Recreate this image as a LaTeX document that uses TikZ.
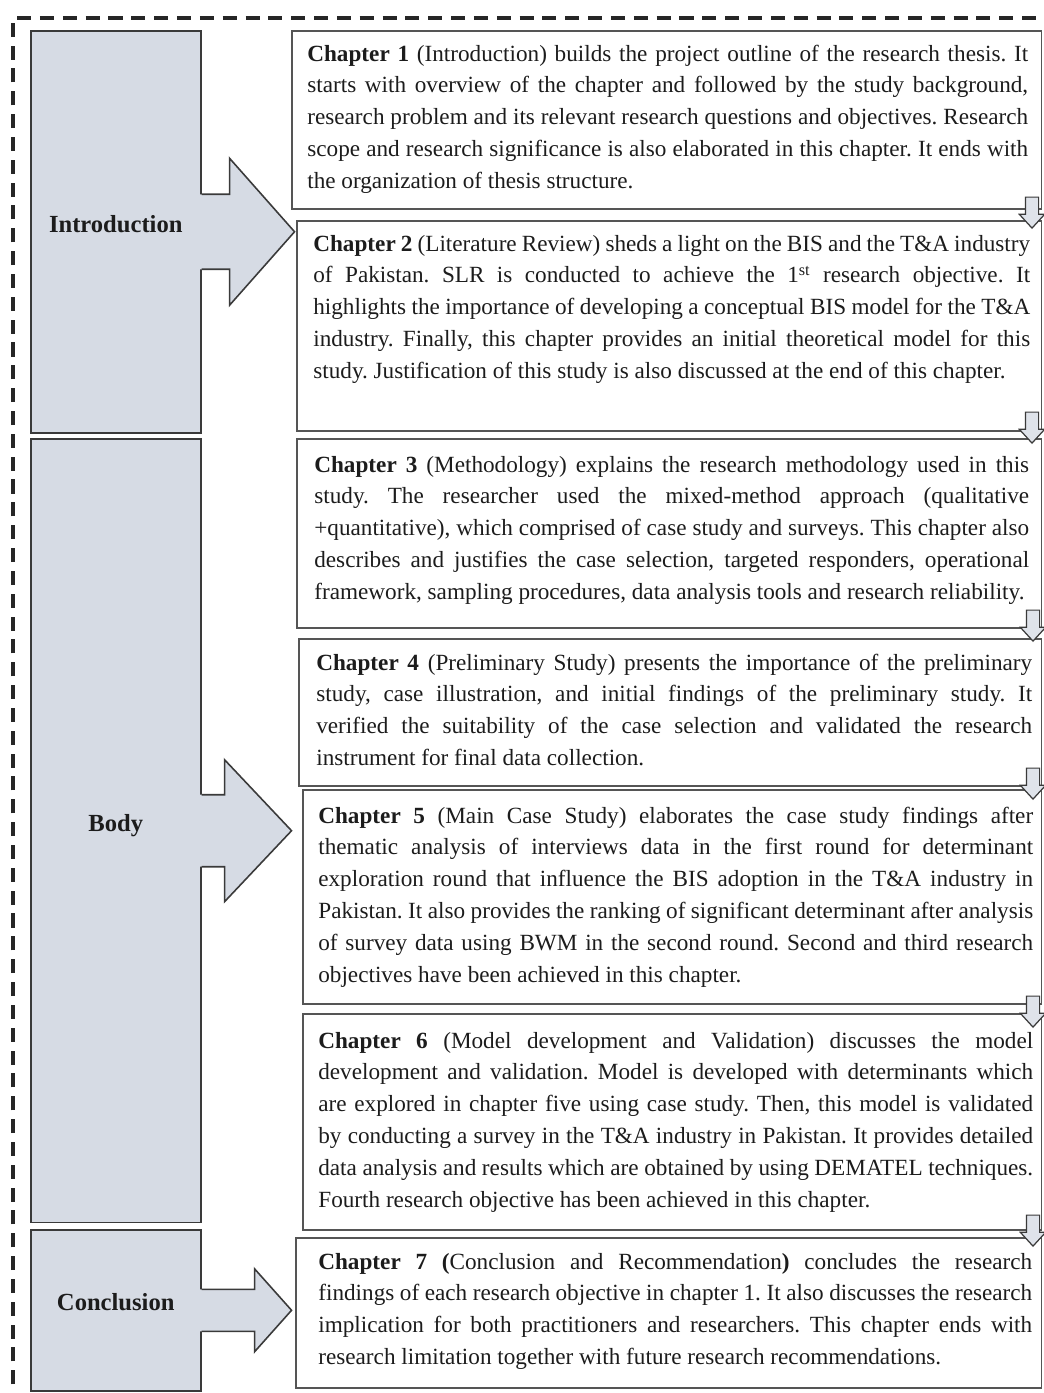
\documentclass[tikz,border=0pt]{standalone}
\usepackage{fontspec}
\setmainfont{Liberation Serif}
\usepackage{xcolor}
\usetikzlibrary{shapes.arrows,positioning,calc}

\definecolor{secfill}{HTML}{D6DBE4}
\definecolor{secline}{HTML}{3A3A3A}
\definecolor{chline}{HTML}{555555}
\definecolor{arrfill}{HTML}{DFE3EA}
\definecolor{txt}{HTML}{1C1C1C}

% side arrow out of a section block: node, base, tip, half stem, half head
\newcommand{\sidearrow}[5]{%
  \fill[secfill] ($(#1.east)+(-2,#4)$) -- ($(#1.east)+(#2,#4)$) -- ($(#1.east)+(#2,#5)$)
    -- ($(#1.east)+(#3,0)$) -- ($(#1.east)+(#2,-#5)$) -- ($(#1.east)+(#2,-#4)$)
    -- ($(#1.east)+(-2,-#4)$) -- cycle;
  \draw[secedge] ($(#1.east)+(0,#4)$) -- ($(#1.east)+(#2,#4)$) -- ($(#1.east)+(#2,#5)$)
    -- ($(#1.east)+(#3,0)$) -- ($(#1.east)+(#2,-#5)$) -- ($(#1.east)+(#2,-#4)$)
    -- ($(#1.east)+(0,-#4)$);}

\frenchspacing

\begin{document}
\begin{tikzpicture}[x=0.02cm, y=-0.02cm,
    secbox/.style={draw=secline, fill=secfill, line width=0.9pt, minimum width=3.4cm, anchor=north west,
      font=\fontsize{14}{16}\selectfont\bfseries, text=txt, text depth=0.32cm},
    secedge/.style={draw=secline, line width=0.9pt, line join=miter},
    chframe/.style={draw=chline, line width=0.9pt, anchor=north west, inner sep=0pt},
    chtext/.style={inner sep=0pt, align=justify, anchor=base west, text=txt,
      font=\fontsize{13.2}{18.2}\selectfont},
    downarr/.style={single arrow, draw=secline, fill=arrfill, line width=0.7pt, inner sep=0.12cm,
      minimum height=0.62cm, single arrow head extend=0.12cm,
      single arrow tip angle=85, shape border rotate=270},
    outer/.style={draw=black!85, line width=2pt, dash pattern=on 8pt off 5pt}
  ]
    \useasboundingbox (0,0) rectangle (1044,1393);
    \clip (0,0) rectangle (1044,1393);

    % outer dashed frame
    \draw[outer] (13,1430) -- (13,18) -- (1080,18);

    % section blocks
    \node[secbox, minimum height=8.04cm] (intro) at (30,30) {Introduction};
    \node[secbox, minimum height=15.68cm] (body) at (30,438) {Body};
    \node[secbox, minimum height=3.22cm] (concl) at (30,1229) {Conclusion};
    \sidearrow{intro}{28}{93}{37.5}{73.5}
    \sidearrow{body}{23}{90}{36}{71}
    \sidearrow{concl}{53}{90}{21}{41.5}

    % chapter frames
    \node[chframe, minimum width=15cm, minimum height=3.56cm] (ch1) at (291,30) {};
    \node[chframe, minimum width=14.9cm, minimum height=4.2cm] (ch2) at (296,220) {};
    \node[chframe, minimum width=14.9cm, minimum height=3.78cm] (ch3) at (296,438) {};
    \node[chframe, minimum width=14.86cm, minimum height=2.94cm] (ch4) at (298,638) {};
    \node[chframe, minimum width=14.78cm, minimum height=4.28cm] (ch5) at (302,789) {};
    \node[chframe, minimum width=14.78cm, minimum height=4.32cm] (ch6) at (302,1013) {};
    \node[chframe, minimum width=14.92cm, minimum height=3.0cm] (ch7) at (295,1237) {};

    % chapter texts
    \node[chtext, text width=14.42cm] (t1) at (307,61) {\textbf{Chapter 1} (Introduction) builds the project outline of the research thesis. It\linebreak
      starts with overview of the chapter and followed by the study background,\linebreak
      research problem and its relevant research questions and objectives. Research\linebreak
      scope and research significance is also elaborated in this chapter. It ends with\linebreak
      the organization of thesis structure.};
    \node[chtext, text width=14.34cm] (t2) at (313,251) {\textbf{Chapter 2} (Literature Review) sheds a light on the BIS and the T\&A industry\linebreak
      of Pakistan. SLR is conducted to achieve the 1\textsuperscript{st} research objective. It\linebreak
      highlights the importance of developing a conceptual BIS model for the T\&A\linebreak
      industry. Finally, this chapter provides an initial theoretical model for this\linebreak
      study. Justification of this study is also discussed at the end of this chapter.};
    \node[chtext, text width=14.3cm] (t3) at (314,472) {\textbf{Chapter 3} (Methodology) explains the research methodology used in this\linebreak
      study. The researcher used the mixed-method approach (qualitative\linebreak
      +quantitative), which comprised of case study and surveys. This chapter also\linebreak
      describes and justifies the case selection, targeted responders, operational\linebreak
      framework, sampling procedures, data analysis tools and research reliability.};
    \node[chtext, text width=14.32cm] (t4) at (316,670) {\textbf{Chapter 4} (Preliminary Study) presents the importance of the preliminary\linebreak
      study, case illustration, and initial findings of the preliminary study. It\linebreak
      verified the suitability of the case selection and validated the research\linebreak
      instrument for final data collection.};
    \node[chtext, text width=14.3cm] (t5) at (318,823) {\textbf{Chapter 5} (Main Case Study) elaborates the case study findings after\linebreak
      thematic analysis of interviews data in the first round for determinant\linebreak
      exploration round that influence the BIS adoption in the T\&A industry in\linebreak
      Pakistan. It also provides the ranking of significant determinant after analysis\linebreak
      of survey data using BWM in the second round. Second and third research\linebreak
      objectives have been achieved in this chapter.};
    \node[chtext, text width=14.3cm] (t6) at (318,1048) {\textbf{Chapter 6} (Model development and Validation) discusses the model\linebreak
      development and validation. Model is developed with determinants which\linebreak
      are explored in chapter five using case study. Then, this model is validated\linebreak
      by conducting a survey in the T\&A industry in Pakistan. It provides detailed\linebreak
      data analysis and results which are obtained by using DEMATEL techniques.\linebreak
      Fourth research objective has been achieved in this chapter.};
    \node[chtext, text width=14.28cm] (t7) at (318,1269) {\textbf{Chapter 7 (}Conclusion and Recommendation\textbf{)} concludes the research\linebreak
      findings of each research objective in chapter 1. It also discusses the research\linebreak
      implication for both practitioners and researchers. This chapter ends with\linebreak
      research limitation together with future research recommendations.};

    % small down arrows between chapters
    \node[downarr] (d12) at (1032,209) {};
    \node[downarr] (d23) at (1032,424) {};
    \node[downarr] (d34) at (1033,622) {};
    \node[downarr] (d45) at (1033,780) {};
    \node[downarr] (d56) at (1033,1008) {};
    \node[downarr] (d67) at (1033,1227) {};
  \end{tikzpicture}
\end{document}
